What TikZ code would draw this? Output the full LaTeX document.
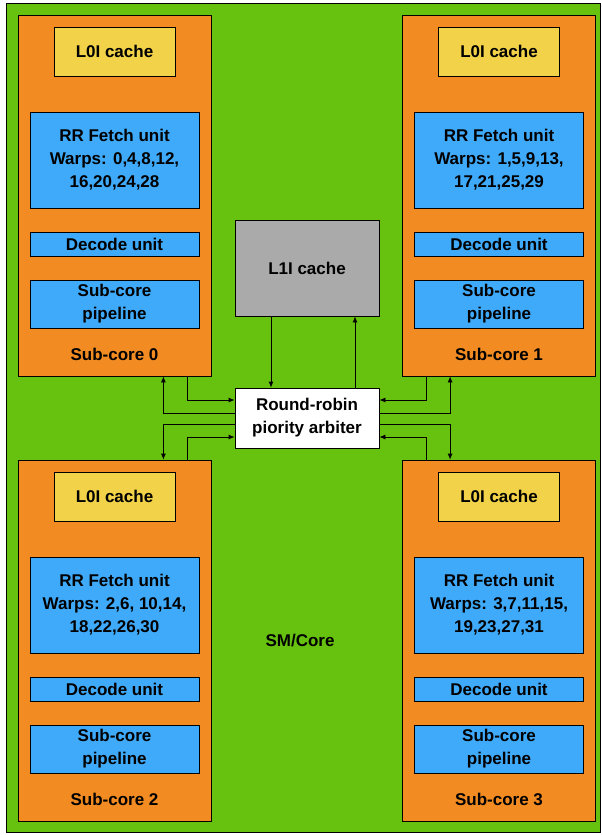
\documentclass[tikz,border=0pt]{standalone}
\usepackage{fontspec}
\setmainfont{Liberation Sans}
\usetikzlibrary{arrows.meta}
\definecolor{smgreen}{RGB}{102,194,14}
\definecolor{coreorange}{RGB}{242,140,34}
\definecolor{lzyellow}{RGB}{242,210,72}
\definecolor{unitblue}{RGB}{64,170,250}
\definecolor{lonegray}{RGB}{170,170,170}
\tikzset{
  core/.style={draw,fill=coreorange,minimum width=193pt,minimum height=361pt,inner sep=0pt},
  lzbox/.style={draw,fill=lzyellow,minimum width=121pt,minimum height=49pt,inner sep=0pt},
  unitbox/.style={draw,fill=unitblue,minimum width=169pt,inner sep=0pt,align=center},
  lonebox/.style={draw,fill=lonegray,minimum width=144pt,minimum height=96pt,inner sep=0pt},
  arbbox/.style={draw,fill=white,minimum width=144pt,minimum height=60pt,inner sep=0pt,align=center},
  link/.style={->,line width=0.8pt}
}
\begin{document}
\begin{tikzpicture}[x=1pt,y=-1pt,>={Latex[length=6pt,width=5pt]},line width=0.8pt,
  font=\fontsize{17}{23}\selectfont\bfseries]
\useasboundingbox (0,0) rectangle (602,835);
\draw[fill=smgreen] (6,3) rectangle (600,832);
\node (sm) at (300,641) {SM/Core};
% four sub-cores
\foreach \n/\cx/\dy/\w in {0/114.5/0/{Warps: 0,4,8,12,\\16,20,24,28},1/499/0/{Warps: 1,5,9,13,\\17,21,25,29},
  2/114.5/445/{Warps: 2,6, 10,14,\\18,22,26,30},3/499/445/{Warps: 3,7,11,15,\\19,23,27,31}}{
  \node[core] (core\n) at (\cx,195.5+\dy) {};
  \node[lzbox] (lzero\n) at (\cx,51.5+\dy) {L0I cache};
  \node[unitbox,minimum height=96pt] (fetch\n) at (\cx,160+\dy) {RR Fetch unit\\\w};
  \node[unitbox,minimum height=24pt] (dec\n) at (\cx,244+\dy) {Decode unit};
  \node[unitbox,minimum height=48pt] (pipe\n) at (\cx,304+\dy) {Sub-core\\pipeline};
  \node (lab\n) at (\cx,354+\dy) {Sub-core \n};}
\node[lonebox] (lone) at (307,268) {L1I cache};
\node[arbbox] (arb) at (307,418) {Round-robin\\piority arbiter};
\draw[link] ([xshift=-36pt]lone.south) -- ([xshift=-36pt]arb.north);
\draw[link] ([xshift=48pt]arb.north) -- ([xshift=48pt]lone.south);
% left side
\draw[link] ([xshift=-24pt]core0.south east) |- ([yshift=18pt]arb.west);
\draw[link] ([yshift=5pt]arb.west) -| ([xshift=-48pt]core0.south east);
\draw[link] ([yshift=-6pt]arb.west) -| ([xshift=-48pt]core2.north east);
\draw[link] ([xshift=-24pt]core2.north east) |- ([yshift=-19pt]arb.west);
% right side
\draw[link] ([xshift=24pt]core1.south west) |- ([yshift=18pt]arb.east);
\draw[link] ([yshift=5pt]arb.east) -| ([xshift=48pt]core1.south west);
\draw[link] ([yshift=-6pt]arb.east) -| ([xshift=48pt]core3.north west);
\draw[link] ([xshift=24pt]core3.north west) |- ([yshift=-19pt]arb.east);
\end{tikzpicture}
\end{document}
